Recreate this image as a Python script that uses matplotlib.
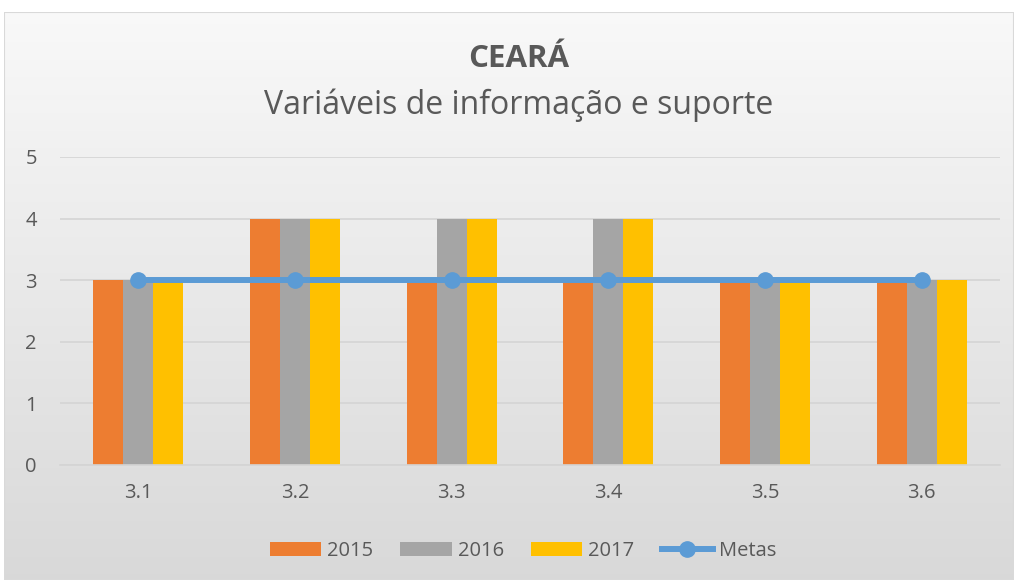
import matplotlib
matplotlib.use("Agg")
import matplotlib.pyplot as plt
import numpy as np
from matplotlib.patches import Rectangle

categories = ["3.1", "3.2", "3.3", "3.4", "3.5", "3.6"]
v2015 = [3, 4, 3, 3, 3, 3]
v2016 = [3, 4, 4, 4, 3, 3]
v2017 = [3, 4, 4, 4, 3, 3]
metas = [3, 3, 3, 3, 3, 3]
yticks = [0, 1, 2, 3, 4, 5]

plt.rcParams['font.family'] = ['Open Sans', 'DejaVu Sans']
W, H = 1014, 580
fig = plt.figure(figsize=(W / 100, H / 100), dpi=100)
fig.patch.set_facecolor('white')

# gradient background of the chart area
bg = fig.add_axes([4 / W, 0, 1 - 4 / W, (H - 12) / H])
grad = np.linspace(0.975, 0.85, 256).reshape(-1, 1)
bg.imshow(np.dstack([grad, grad, grad]), aspect='auto', extent=[0, 1, 0, 1], origin='upper')
bg.set_xlim(0, 1); bg.set_ylim(0, 1)
bg.axis('off')
bg.add_patch(Rectangle((0, 0), 1, 1, transform=bg.transAxes, fill=False,
                       edgecolor='#d9d9d9', lw=1.5))

ax = fig.add_axes([60 / W, (H - 465) / H, (1000 - 60) / W, (465 - 157) / H])
ax.patch.set_alpha(0)
x = np.arange(len(categories))
bw = 0.192
b1 = ax.bar(x - bw, v2015, bw, color='#ED7D31', label='2015', zorder=2)
b2 = ax.bar(x, v2016, bw, color='#A5A5A5', label='2016', zorder=2)
b3 = ax.bar(x + bw, v2017, bw, color='#FFC000', label='2017', zorder=2)
l1, = ax.plot(x, metas, color='#5B9BD5', lw=4.3, marker='o', markersize=11,
              label='Metas', zorder=3)

ax.set_xlim(-0.5, 5.5)
ax.set_ylim(0, 5)
ax.set_yticks(yticks)
ax.set_xticks(x)
ax.set_xticklabels(categories)
ax.yaxis.grid(True, color='#d4d4d4', lw=1.2, zorder=0)
ax.set_axisbelow(True)
for s in ['top', 'right', 'left']:
    ax.spines[s].set_visible(False)
ax.spines['bottom'].set_color('#d4d4d4')
ax.spines['bottom'].set_linewidth(1.2)
ax.tick_params(length=0, colors='#595959', labelsize=14.5)
ax.tick_params(axis='x', pad=13)
ax.tick_params(axis='y', pad=25)
for lab in ax.get_yticklabels():
    lab.set_horizontalalignment('left')

fig.text(519 / W, 1 - 59 / H, 'CEARÁ', ha='center', va='center', fontsize=22.5,
         fontweight='bold', color='#595959')
fig.text(519 / W, 1 - 105 / H, 'Variáveis de informação e suporte', ha='center',
         va='center', fontsize=23, color='#595959')

leg = fig.legend([b1, b2, b3, l1], ['2015', '2016', '2017', 'Metas'],
                 loc='center', bbox_to_anchor=(523 / W, 1 - 551 / H), ncol=4,
                 frameon=False, fontsize=14.5, handlelength=2.55, handleheight=0.7,
                 columnspacing=1.35, handletextpad=0.3)
for t in leg.get_texts():
    t.set_color('#595959')

fig.savefig('out.png', dpi=100)
